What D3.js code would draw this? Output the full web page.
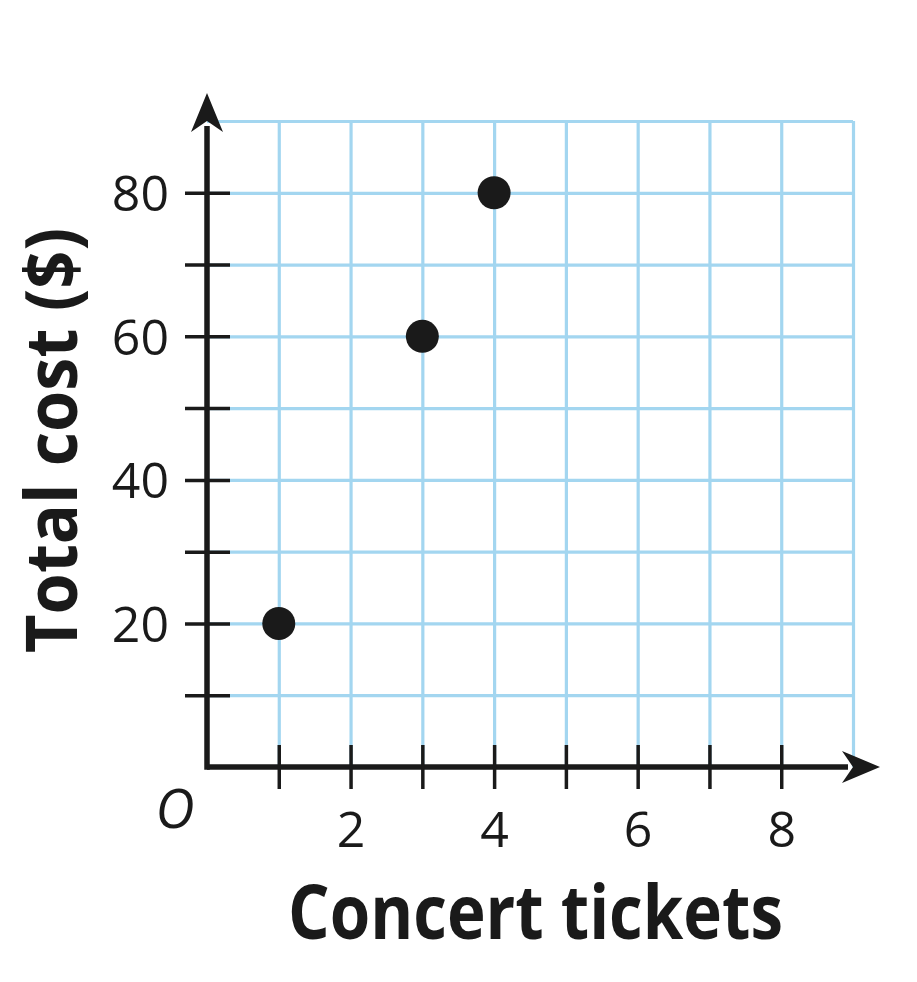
<!DOCTYPE html>
<html>
<head>
<meta charset="utf-8">
<script src="https://cdn.jsdelivr.net/npm/d3@7"></script>
<style>
  html, body { margin: 0; padding: 0; background: #fff; }
  svg { display: block; }
</style>
</head>
<body>
<svg id="chart" width="917" height="982"></svg>
<script>
// ---- data ----
const tickets = [1, 3, 4];
const totalCost = [20, 60, 80];
const xTickValues = [1, 2, 3, 4, 5, 6, 7, 8];
const xLabelValues = [2, 4, 6, 8];
const yTickValues = [10, 20, 30, 40, 50, 60, 70, 80];
const yLabelValues = [20, 40, 60, 80];
const xGridValues = [1, 2, 3, 4, 5, 6, 7, 8, 9];
const yGridValues = [10, 20, 30, 40, 50, 60, 70, 80, 90];
const xTitle = "Concert tickets";
const yTitle = "Total cost ($)";

const ink = "#1a1a1a";
const gridColor = "#a3d6f0";
const svg = d3.select("#chart");

const x = d3.scaleLinear().domain([0, 9]).range([207, 853]);
const y = d3.scaleLinear().domain([0, 90]).range([767, 121]);

// ---- grid ----
const gx = svg.append("g").attr("transform", `translate(0,${y(0)})`)
  .call(d3.axisBottom(x).tickValues(xGridValues).tickSize(-(y(0) - y(90))).tickFormat(""));
gx.select(".domain").remove();
gx.selectAll(".tick line").attr("stroke", gridColor).attr("stroke-width", 3.2);

const gy = svg.append("g").attr("transform", `translate(${x(0)},0)`)
  .call(d3.axisLeft(y).tickValues(yGridValues).tickSize(-(x(9) - x(0))).tickFormat(""));
gy.select(".domain").remove();
gy.selectAll(".tick line").attr("stroke", gridColor).attr("stroke-width", 3.2);

// ---- axes ----
svg.append("line").attr("x1", x(0)).attr("x2", x(9) - 5).attr("y1", y(0)).attr("y2", y(0))
  .attr("stroke", ink).attr("stroke-width", 5.5);
svg.append("line").attr("x1", x(0)).attr("x2", x(0)).attr("y1", y(0) + 2.75).attr("y2", y(90) + 5)
  .attr("stroke", ink).attr("stroke-width", 5.5);

// arrowheads
const xe = x(9);
svg.append("path")
  .attr("d", `M${xe + 27},${y(0)} L${xe - 11},${y(0) - 16} L${xe},${y(0)} L${xe - 11},${y(0) + 16} Z`)
  .attr("fill", ink);
const yt = y(90);
svg.append("path")
  .attr("d", `M${x(0)},${yt - 28} L${x(0) - 16},${yt + 11} L${x(0)},${yt} L${x(0) + 16},${yt + 11} Z`)
  .attr("fill", ink);

// ---- ticks and labels ----
const ax = svg.append("g").attr("transform", `translate(0,${y(0)})`)
  .call(d3.axisBottom(x).tickValues(xTickValues)
    .tickFormat(d => xLabelValues.includes(d) ? d : ""));
ax.select(".domain").remove();
ax.selectAll(".tick line").attr("y1", -22).attr("y2", 22).attr("stroke", ink).attr("stroke-width", 3.5);
ax.selectAll(".tick text").attr("y", 80).attr("dy", null)
  .attr("fill", ink).attr("font-family", "Open Sans, sans-serif").attr("font-size", 50);

const ay = svg.append("g").attr("transform", `translate(${x(0)},0)`)
  .call(d3.axisLeft(y).tickValues(yTickValues)
    .tickFormat(d => yLabelValues.includes(d) ? d : ""));
ay.select(".domain").remove();
ay.selectAll(".tick line").attr("x1", -22).attr("x2", 23).attr("stroke", ink).attr("stroke-width", 3.5);
ay.selectAll(".tick text").attr("x", -38).attr("dy", "0.36em")
  .attr("fill", ink).attr("font-family", "Open Sans, sans-serif").attr("font-size", 50);

// origin label
svg.append("text").attr("x", 175).attr("y", 828).attr("text-anchor", "middle")
  .attr("font-family", "Open Sans, sans-serif").attr("font-style", "italic")
  .attr("font-size", 54).attr("fill", ink).text("O");

// ---- points ----
svg.append("g").selectAll("circle")
  .data(tickets.map((t, i) => ({ t, c: totalCost[i] })))
  .join("circle")
  .attr("cx", d => x(d.t)).attr("cy", d => y(d.c)).attr("r", 16.5)
  .attr("fill", ink);

// ---- titles ----
svg.append("text").attr("x", 535.5).attr("y", 939).attr("text-anchor", "middle")
  .attr("font-family", "Open Sans, sans-serif").attr("font-weight", 700)
  .attr("font-size", 76).attr("fill", ink)
  .attr("textLength", 495).attr("lengthAdjust", "spacingAndGlyphs")
  .text(xTitle);

svg.append("text").attr("transform", "translate(77,440.5) rotate(-90)")
  .attr("text-anchor", "middle")
  .attr("font-family", "Open Sans, sans-serif").attr("font-weight", 700)
  .attr("font-size", 72).attr("fill", ink)
  .attr("textLength", 425).attr("lengthAdjust", "spacingAndGlyphs")
  .text(yTitle);
</script>
</body>
</html>
